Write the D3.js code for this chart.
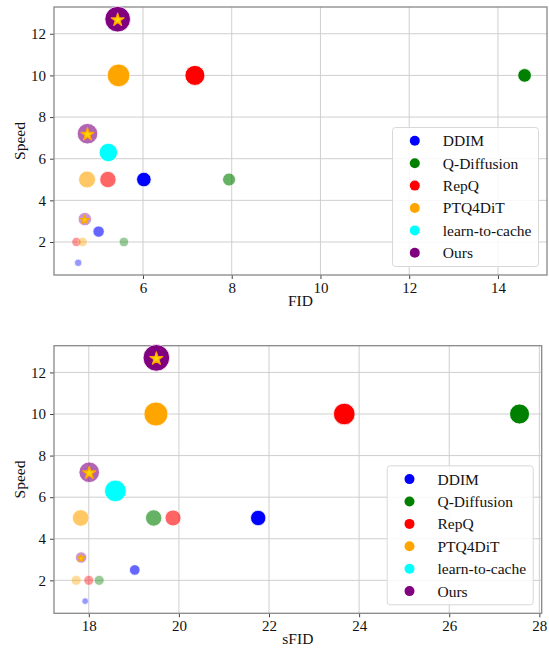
<!DOCTYPE html>
<html><head><meta charset="utf-8">
<script src="https://cdn.jsdelivr.net/npm/d3@7"></script>
<style>
body{margin:0;background:#fff}
svg text{font-family:"Liberation Serif","Times New Roman",serif;fill:#111}
</style>
</head><body>
<svg id="c" width="549" height="651"></svg>
<script>
// ---- data ----
const methods = ["DDIM", "Q-Diffusion", "RepQ", "PTQ4DiT", "learn-to-cache", "Ours"];
const methodColors = ["#0000ff", "#008000", "#ff0000", "#ffa500", "#00ffff", "#800080"];

const pointMethod = ["DDIM","DDIM","DDIM","Q-Diffusion","Q-Diffusion","Q-Diffusion","RepQ","RepQ","RepQ","PTQ4DiT","PTQ4DiT","PTQ4DiT","learn-to-cache","Ours","Ours","Ours"];
const pointSpeed  = [5, 2.5, 1, 10, 5, 2, 10, 5, 2, 10, 5, 2, 6.3, 12.7, 7.2, 3.1];
const pointFID    = [6.02, 5.00, 4.54, 14.60, 7.94, 5.57, 7.17, 5.21, 4.50, 5.45, 4.74, 4.64, 5.22, 5.43, 4.75, 4.69];
const pointSFID   = [21.76, 19.02, 17.92, 27.56, 19.44, 18.23, 23.67, 19.87, 18.00, 19.49, 17.82, 17.72, 18.59, 19.50, 18.01, 17.83];
// marker weights (area units) as drawn in each panel
const weightFID   = [53, 32, 14, 46, 42, 23, 100, 67, 22, 128, 72, 22, 85, 164, 106, 45];
const weightSFID  = [59, 28, 11, 100, 67, 25, 117, 64, 25, 144, 69, 25, 117, 177, 106, 32];

const fidTicks   = [6, 8, 10, 12, 14];
const sfidTicks  = [18, 20, 22, 24, 26, 28];
const speedTicks = [2, 4, 6, 8, 10, 12];

// ---- drawing ----
const svg = d3.select("#c");
const tierOpacity = [1, 0.6, 0.4];

// opacity tier = rank of speed within each method (fastest = strongest)
const tier = pointSpeed.map((s, i) => {
  const same = pointSpeed.filter((v, j) => pointMethod[j] === pointMethod[i]);
  return same.filter(v => v > s).length;
});

function padDomain(vals) {
  const [a, b] = d3.extent(vals);
  const m = (b - a) * 0.05;
  return [a - m, b + m];
}

function drawPanel(cfg) {
  const g = svg.append("g");
  const x = d3.scaleLinear().domain(padDomain(cfg.xValues)).range([cfg.left, cfg.right]);
  const y = d3.scaleLinear().domain(padDomain(pointSpeed)).range([cfg.bottom, cfg.top]);
  const color = d3.scaleOrdinal().domain(methods).range(methodColors);
  const rScale = d3.scaleSqrt().domain([0, 1]).range([0, 1]);

  // grid
  g.append("g").selectAll("line.v").data(cfg.xTicks).join("line")
    .attr("x1", d => x(d)).attr("x2", d => x(d))
    .attr("y1", cfg.top).attr("y2", cfg.bottom)
    .attr("stroke", "#cfcfcf").attr("stroke-width", 1);
  g.append("g").selectAll("line.h").data(speedTicks).join("line")
    .attr("y1", d => y(d)).attr("y2", d => y(d))
    .attr("x1", cfg.left).attr("x2", cfg.right)
    .attr("stroke", "#cfcfcf").attr("stroke-width", 1);

  // axes
  const xAxis = g.append("g").attr("transform", `translate(0,${cfg.bottom})`)
    .call(d3.axisBottom(x).tickValues(cfg.xTicks).tickSize(4).tickPadding(3.5).tickFormat(d3.format("d")));
  const yAxis = g.append("g").attr("transform", `translate(${cfg.left},0)`)
    .call(d3.axisLeft(y).tickValues(speedTicks).tickSize(4).tickPadding(4).tickFormat(d3.format("d")));
  [xAxis, yAxis].forEach(a => {
    a.select(".domain").remove();
    a.selectAll(".tick line").attr("stroke", "#444");
    a.selectAll(".tick text").style("font-size", "15px").attr("fill", "#111");
  });

  // spines
  g.append("rect").attr("x", cfg.left).attr("y", cfg.top)
    .attr("width", cfg.right - cfg.left).attr("height", cfg.bottom - cfg.top)
    .attr("fill", "none").attr("stroke", "#888").attr("stroke-width", 1.3);

  // points
  const idx = d3.range(pointSpeed.length);
  g.append("g").selectAll("circle").data(idx).join("circle")
    .attr("cx", i => x(cfg.xValues[i]))
    .attr("cy", i => y(pointSpeed[i]))
    .attr("r", i => rScale(cfg.weights[i]))
    .attr("fill", i => color(pointMethod[i]))
    .attr("stroke", "#fff").attr("stroke-width", 0.8)
    .attr("opacity", i => tierOpacity[tier[i]]);

  // stars on "Ours"
  const star = d3.symbol().type(d3.symbolStar);
  g.append("g").selectAll("path").data(idx.filter(i => pointMethod[i] === "Ours")).join("path")
    .attr("transform", i => `translate(${x(cfg.xValues[i])},${y(pointSpeed[i]) + 0.8})`)
    .attr("d", i => {
      const R = Math.min(6.8, rScale(cfg.weights[i]) * 0.68);
      return star.size(R * R / 0.8908130915292852)();
    })
    .attr("fill", "#ffd700").attr("stroke", "#ffa500").attr("stroke-width", 1.2)
    .attr("stroke-linejoin", "round");

  // axis labels
  g.append("text").attr("x", (cfg.left + cfg.right) / 2).attr("y", cfg.bottom + 31)
    .attr("text-anchor", "middle").style("font-size", "15.5px").text(cfg.xLabel);
  g.append("text").attr("transform", `translate(25,${(cfg.top + cfg.bottom) / 2}) rotate(-90)`)
    .attr("text-anchor", "middle").style("font-size", "15.5px").text("Speed");

  // legend
  const lw = 146, lh = 139;
  const lx = cfg.right - 8.5 - lw, ly = cfg.bottom - 8.5 - lh;
  const leg = g.append("g").attr("transform", `translate(${lx},${ly})`);
  leg.append("rect").attr("width", lw).attr("height", lh).attr("rx", 3)
    .attr("fill", "#fff").attr("fill-opacity", 0.85).attr("stroke", "#d8d8d8");
  const rows = leg.selectAll("g").data(methods).join("g")
    .attr("transform", (d, i) => `translate(0,${13.3 + i * 22.4})`);
  rows.append("circle").attr("cx", 22.3).attr("r", 5).attr("fill", d => color(d));
  rows.append("text").attr("x", 50.3).attr("dy", "0.35em").style("font-size", "15.5px").text(d => d);
}

drawPanel({left: 54, right: 547, top: 7, bottom: 275, xValues: pointFID, weights: weightFID, xTicks: fidTicks, xLabel: "FID"});
drawPanel({left: 54, right: 541.7, top: 345.7, bottom: 613.3, xValues: pointSFID, weights: weightSFID, xTicks: sfidTicks, xLabel: "sFID"});
</script>
</body></html>
